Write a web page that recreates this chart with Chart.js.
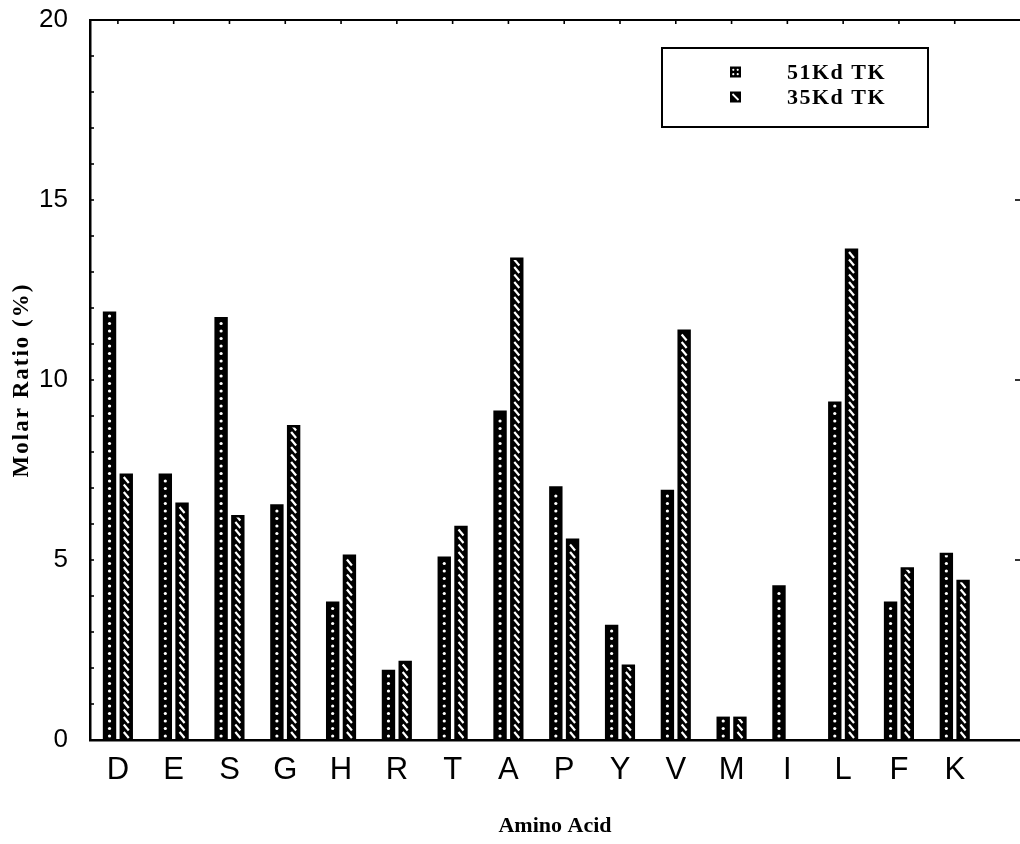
<!DOCTYPE html>
<html><head><meta charset="utf-8">
<script src="https://cdn.jsdelivr.net/npm/chart.js@4/dist/chart.umd.min.js"></script>
<style>html,body{margin:0;padding:0;background:#fff}#wrap{width:1020px;height:844px;position:relative}</style>
</head><body><div id="wrap"><canvas id="c" width="1020" height="844"></canvas></div>
<script>
const categories = ['D','E','S','G','H','R','T','A','P','Y','V','M','I','L','F','K'];
const tk51 = [11.9, 7.4, 11.75, 6.55, 3.85, 1.95, 5.1, 9.15, 7.05, 3.2, 6.95, 0.65, 4.3, 9.4, 3.85, 5.2];
const tk35 = [7.4, 6.6, 6.25, 8.75, 5.15, 2.2, 5.95, 13.4, 5.6, 2.1, 11.4, 0.65, 0, 13.65, 4.8, 4.45];
const seriesLabels = ['51Kd TK', '35Kd TK'];
const yLabelValues = [0, 5, 10, 15, 20];
const xTitle = 'Amino Acid';
const yTitle = 'Molar Ratio (%)';

const SANS = '"Liberation Sans", Arial, sans-serif';
const SERIF = '"Liberation Serif", "Times New Roman", serif';

function drawDots(ctx, x, top, bottom, step) {
  for (let yy = bottom - 4; yy > top + 3; yy -= step) {
    ctx.beginPath(); ctx.arc(x, yy, 1.6, 0, Math.PI * 2); ctx.fill();
  }
}
function drawSlashes(ctx, x, top, bottom, step) {
  for (let yy = bottom - 5; yy > top + 2; yy -= step) {
    ctx.beginPath(); ctx.moveTo(x - 2.5, yy - 3); ctx.lineTo(x + 2.5, yy + 3); ctx.stroke();
  }
}

const texturePlugin = {
  id: 'texture',
  afterDatasetsDraw(chart) {
    const ctx = chart.ctx;
    chart.data.datasets.forEach((ds, di) => {
      const meta = chart.getDatasetMeta(di);
      meta.data.forEach(bar => {
        const p = bar.getProps(['x', 'y', 'base', 'width'], true);
        const h = p.base - p.y;
        if (h < 4) return;
        ctx.save();
        ctx.beginPath();
        ctx.rect(p.x - p.width / 2 + 3, p.y + 2.5, p.width - 6, h - 3.5);
        ctx.clip();
        ctx.fillStyle = '#fff'; ctx.strokeStyle = '#fff'; ctx.lineWidth = 2.2;
        if (di === 0) drawDots(ctx, p.x, p.y, p.base, 7.5);
        else drawSlashes(ctx, p.x, p.y, p.base, 7.5);
        ctx.restore();
      });
    });
  }
};

const framePlugin = {
  id: 'frame',
  afterDraw(chart) {
    const ctx = chart.ctx;
    const a = chart.chartArea;
    const xs = chart.scales.x, ys = chart.scales.y;
    ctx.save();
    ctx.strokeStyle = '#000';
    ctx.lineWidth = 2;
    ctx.beginPath(); ctx.moveTo(a.left - 1, a.top); ctx.lineTo(a.right, a.top); ctx.stroke();
    ctx.lineWidth = 1.6;
    for (let v = ys.min; v <= ys.max; v += 1) {
      const py = ys.getPixelForValue(v);
      ctx.beginPath(); ctx.moveTo(a.left, py); ctx.lineTo(a.left + 4, py); ctx.stroke();
    }
    categories.forEach((c, i) => {
      const px = xs.getPixelForValue(i);
      ctx.beginPath(); ctx.moveTo(px, a.top); ctx.lineTo(px, a.top + 4); ctx.stroke();
    });
    yLabelValues.forEach(v => {
      if (v === ys.min || v === ys.max) return;
      const py = ys.getPixelForValue(v);
      ctx.beginPath(); ctx.moveTo(a.right - 5, py); ctx.lineTo(a.right, py); ctx.stroke();
    });
    // legend box
    const bx = a.left + 572, by = a.top + 28, bw = 266, bh = 79;
    ctx.lineWidth = 2;
    ctx.strokeRect(bx, by, bw, bh);
    ctx.font = 'bold 22px ' + SERIF;
    ctx.letterSpacing = '1.5px';
    ctx.textBaseline = 'middle';
    seriesLabels.forEach((lab, i) => {
      const cy = by + 24 + i * 25;
      const sx = bx + 68, s = 11;
      ctx.fillStyle = '#000';
      ctx.fillRect(sx, cy - s / 2, s, s);
      ctx.fillStyle = '#fff'; ctx.strokeStyle = '#fff'; ctx.lineWidth = 1.8;
      if (i === 0) {
        [[-2.2, -2.2], [2.2, -2.2], [-2.2, 2.2], [2.2, 2.2]].forEach(d => {
          ctx.beginPath(); ctx.arc(sx + s / 2 + d[0], cy + d[1], 1.1, 0, Math.PI * 2); ctx.fill();
        });
      } else {
        ctx.beginPath(); ctx.moveTo(sx + 2.5, cy - 3); ctx.lineTo(sx + s - 2.5, cy + 3); ctx.stroke();
      }
      ctx.fillStyle = '#000';
      ctx.fillText(lab, bx + 125, cy + 1);
    });
    // axis titles
    ctx.fillStyle = '#000';
    ctx.textAlign = 'center';
    ctx.textBaseline = 'middle';
    ctx.letterSpacing = '0px';
    ctx.font = 'bold 22px ' + SERIF;
    ctx.fillText(xTitle, (a.left + a.right) / 2, 826);
    ctx.save();
    ctx.translate(22, (a.top + a.bottom) / 2);
    ctx.rotate(-Math.PI / 2);
    ctx.font = 'bold 23px ' + SERIF;
    ctx.letterSpacing = '2px';
    ctx.fillText(yTitle, 0, 0);
    ctx.restore();
    ctx.restore();
  }
};

const ctx = document.getElementById('c').getContext('2d');
new Chart(ctx, {
  type: 'bar',
  data: {
    datasets: [
      { label: seriesLabels[0], data: categories.map((c, i) => ({ x: i, y: tk51[i] })),
        backgroundColor: '#000', borderWidth: 0, categoryPercentage: 0.6, barPercentage: 0.8 },
      { label: seriesLabels[1], data: categories.map((c, i) => ({ x: i, y: tk35[i] })),
        backgroundColor: '#000', borderWidth: 0, categoryPercentage: 0.6, barPercentage: 0.8 }
    ]
  },
  options: {
    responsive: false,
    animation: false,
    devicePixelRatio: 1,
    layout: { padding: { top: 20, right: 0, left: 0, bottom: 0 } },
    plugins: { legend: { display: false }, tooltip: { enabled: false } },
    scales: {
      x: {
        type: 'linear',
        position: 'bottom',
        min: -0.5,
        max: 16.17,
        offset: false,
        afterBuildTicks: s => { s.ticks = categories.map((c, i) => ({ value: i })); },
        afterFit: s => { s.height = 104; s.paddingLeft = 0; s.paddingRight = 0; s.paddingTop = 0; s.paddingBottom = 0; },
        grid: { display: false, drawTicks: false },
        border: { display: true, color: '#000', width: 2.5 },
        ticks: {
          autoSkip: false, maxRotation: 0, padding: 12, color: '#000',
          font: { family: SANS, size: 31 },
          callback: v => categories[v] !== undefined ? categories[v] : ''
        },
        title: { display: false }
      },
      y: {
        min: 0, max: 20,
        afterFit: s => { s.width = 90; s.paddingTop = 0; s.paddingBottom = 0; s.paddingLeft = 0; s.paddingRight = 0; },
        afterBuildTicks: s => { s.ticks = Array.from({ length: 21 }, (_, k) => ({ value: k })); },
        grid: { display: false, drawTicks: false },
        border: { display: true, color: '#000', width: 2.5 },
        ticks: {
          autoSkip: false, padding: 22, color: '#000',
          font: { family: SANS, size: 26 },
          callback: v => yLabelValues.includes(v) ? String(v) : ''
        },
        title: { display: false }
      }
    }
  },
  plugins: [texturePlugin, framePlugin]
});
</script>
</body></html>
